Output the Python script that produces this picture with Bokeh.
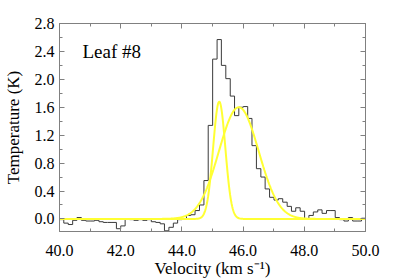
import numpy as np
from bokeh.plotting import figure
from bokeh.models import (LinearAxis, FixedTicker, PrintfTickFormatter,
                          CustomJSTickFormatter, Range1d, Label)
from bokeh.embed import file_html
from bokeh.resources import INLINE

# ---- data ----
velocity = [40.07, 40.21, 40.36, 40.50, 40.64, 40.79, 40.93, 41.07, 41.22, 41.36,
            41.50, 41.64, 41.79, 41.93, 42.07, 42.22, 42.36, 42.50, 42.65, 42.79,
            42.93, 43.07, 43.22, 43.36, 43.50, 43.65, 43.79, 43.93, 44.08, 44.22,
            44.36, 44.50, 44.65, 44.79, 44.93, 45.08, 45.22, 45.36, 45.51, 45.65,
            45.79, 45.93, 46.08, 46.22, 46.36, 46.51, 46.65, 46.79, 46.94, 47.08,
            47.22, 47.37, 47.51, 47.65, 47.79, 47.94, 48.08, 48.22, 48.37, 48.51,
            48.65, 48.80, 48.94, 49.08, 49.22, 49.37, 49.51, 49.65, 49.80, 49.94]
temperature = [-0.01, -0.06, -0.08, -0.02, 0.02, -0.02, -0.03, -0.03, -0.02, -0.04,
               -0.05, -0.05, -0.05, -0.14, -0.10, 0.00, -0.01, -0.02, -0.01, -0.02,
               -0.01, -0.04, -0.05, -0.07, -0.17, -0.12, -0.06, -0.01, 0.00, 0.05,
               0.06, 0.12, 0.20, 0.55, 1.34, 2.29, 2.57, 2.20, 2.01, 1.76,
               1.48, 1.60, 1.61, 1.44, 1.05, 0.72, 0.60, 0.43, 0.31, 0.27,
               0.29, 0.24, 0.18, 0.11, 0.16, 0.11, 0.00, 0.05, 0.10, 0.13,
               0.08, 0.12, 0.12, 0.02, -0.01, -0.03, 0.02, -0.03, -0.03, 0.01]

# Gaussian fit components (amplitude K, centre km/s, sigma km/s)
narrow_amp, narrow_center, narrow_sigma = 1.68, 45.22, 0.20
broad_amp, broad_center, broad_sigma = 1.60, 45.86, 0.65

x_major = [40, 42, 44, 46, 48, 50]
x_minor = [41, 43, 45, 47, 49]
y_major = [0.0, 0.4, 0.8, 1.2, 1.6, 2.0, 2.4, 2.8]
y_minor = [0.2, 0.6, 1.0, 1.4, 1.8, 2.2, 2.6]

# ---- build step edges from channel centres ----
v = np.array(velocity)
mid = (v[1:] + v[:-1]) / 2
half = (v[1] - v[0]) / 2
edges = np.concatenate([[v[0] - half], mid, [v[-1] + half]])
step_y = list(temperature) + [temperature[-1]]

xs = np.linspace(40, 50, 600)
g_narrow = narrow_amp * np.exp(-0.5 * ((xs - narrow_center) / narrow_sigma) ** 2)
g_broad = broad_amp * np.exp(-0.5 * ((xs - broad_center) / broad_sigma) ** 2)

SERIF = "'Liberation Serif', 'Times New Roman', serif"
FRAME = "#808080"

p = figure(frame_width=306, frame_height=208,
           x_range=Range1d(40, 50), y_range=Range1d(-0.18, 2.8),
           output_backend="svg", toolbar_location=None,
           x_axis_location=None, y_axis_location=None,
           min_border_left=59, min_border_right=30,
           min_border_top=23, min_border_bottom=48,
           background_fill_color="white", border_fill_color="white")
p.grid.visible = False
p.outline_line_color = FRAME
p.outline_line_width = 1


def style_axis(ax, ticks, minor, labels=True):
    ax.ticker = FixedTicker(ticks=ticks, minor_ticks=minor)
    ax.axis_line_color = FRAME
    ax.major_tick_line_color = FRAME
    ax.minor_tick_line_color = FRAME
    ax.major_tick_in = 5
    ax.major_tick_out = 0
    ax.minor_tick_in = 3
    ax.minor_tick_out = 0
    if labels:
        ax.formatter = PrintfTickFormatter(format="%.1f")
        ax.major_label_text_font = SERIF
        ax.major_label_text_font_size = "16px"
        ax.major_label_text_color = "black"
        ax.axis_label_text_font = SERIF
        ax.axis_label_text_font_size = "17px"
        ax.axis_label_text_font_style = "normal"
        ax.axis_label_text_color = "black"
    else:
        ax.formatter = CustomJSTickFormatter(code="return ''")


xb = LinearAxis(axis_label="Velocity (km s\u207b\u00b9)")
style_axis(xb, x_major, x_minor)
xb.major_label_standoff = 13
xb.axis_label_standoff = 0
p.add_layout(xb, "below")

yl = LinearAxis(axis_label="Temperature (K)")
style_axis(yl, y_major, y_minor)
yl.major_label_standoff = 5
yl.axis_label_standoff = 9
p.add_layout(yl, "left")

xt = LinearAxis()
style_axis(xt, x_major, x_minor, labels=False)
p.add_layout(xt, "above")

yr = LinearAxis()
style_axis(yr, y_major, y_minor, labels=False)
p.add_layout(yr, "right")

p.step(x=edges, y=step_y, mode="after", line_color="#3a3a3a", line_width=1)
p.line(xs, g_narrow, line_color="#ffff33", line_width=2)
p.line(xs, g_broad, line_color="#ffff33", line_width=2)

p.add_layout(Label(x=40.75, y=2.40, text="Leaf #8", text_font=SERIF,
                   text_font_size="19px", text_baseline="alphabetic",
                   text_color="black"))

open("out.html", "w").write(file_html(p, INLINE))
